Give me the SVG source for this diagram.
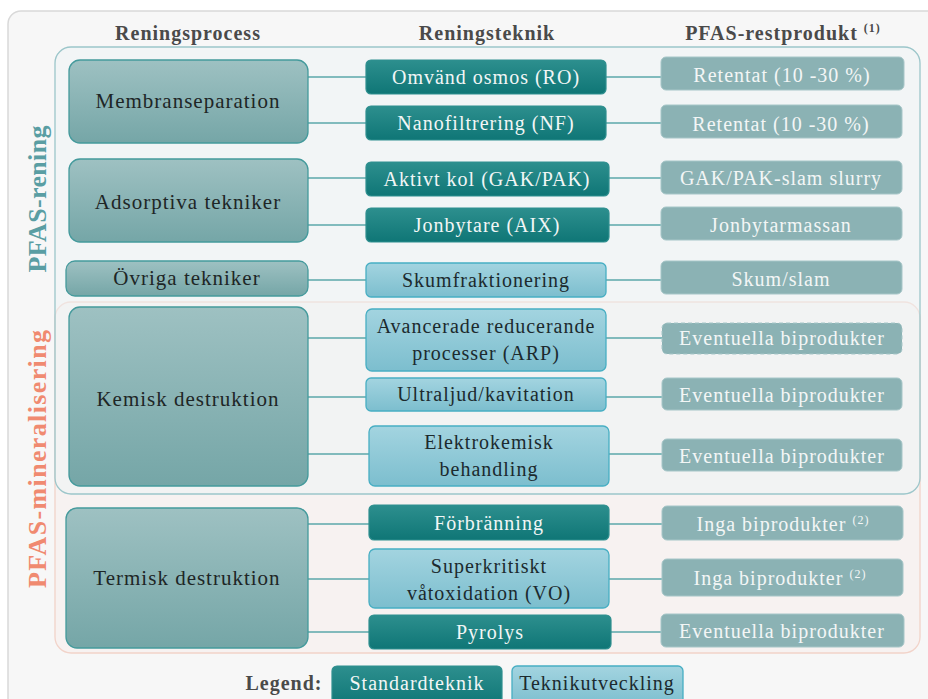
<svg xmlns="http://www.w3.org/2000/svg" width="928" height="699" viewBox="0 0 928 699">
<style>
text{font-family:"Liberation Serif","Times New Roman",serif;letter-spacing:1px}
.hdr{font-size:20px;font-weight:bold;fill:#4a4a4a;text-anchor:middle}
.lt{font-size:21px;fill:#1e2626;text-anchor:middle}
.st{font-size:20px;fill:#f2f6f6;text-anchor:middle}
.dt{font-size:20px;fill:#1c2a2e;text-anchor:middle}
.rt{font-size:20px;fill:#f3f6f6;text-anchor:middle}
.vl{font-size:26px;font-weight:bold;text-anchor:middle;letter-spacing:0}
.sup{font-size:12px}
.left{fill:url(#gl);stroke:#449a9c;stroke-width:1.3}
.std{fill:url(#gs);stroke:#2f8f8f;stroke-width:1.2}
.dev{fill:url(#gd);stroke:#47aec3;stroke-width:1.3}
.res{fill:#8bb2b4;stroke:#a6c6c8;stroke-width:1}
.con line{stroke:#5ba7aa;stroke-width:1.6}
</style>
<defs>
<linearGradient id="gl" x1="0" y1="0" x2="0" y2="1"><stop offset="0" stop-color="#9ec1c2"/><stop offset="1" stop-color="#75a6a7"/></linearGradient>
<linearGradient id="gs" x1="0" y1="0" x2="0" y2="1"><stop offset="0" stop-color="#2d8f8e"/><stop offset="1" stop-color="#0f7676"/></linearGradient>
<linearGradient id="gd" x1="0" y1="0" x2="0" y2="1"><stop offset="0" stop-color="#a3d4e0"/><stop offset="1" stop-color="#7cbece"/></linearGradient>
</defs>
<rect x="8" y="11" width="940" height="700" rx="13" fill="#f7f7f7" stroke="#d9d9d9" stroke-width="1.5"/>
<g id="headers">
<text class="hdr" x="188" y="40">Reningsprocess</text>
<text class="hdr" x="487" y="40">Reningsteknik</text>
<text class="hdr" x="783" y="40">PFAS-restprodukt <tspan class="sup" dy="-8">(1)</tspan></text>
</g>
<g id="group-mineralisering">
<rect x="55" y="302" width="865" height="351" rx="16" fill="#f7f2f1" stroke="#f2d3c9" stroke-width="1.3"/>
<text class="vl" x="46" y="459" transform="rotate(-90 46 459)" fill="#f08a70" textLength="258" lengthAdjust="spacing">PFAS-mineralisering</text>
</g>
<g id="group-rening">
<rect x="55" y="47" width="865" height="447" rx="16" fill="#eef4f5" fill-opacity="0.5" stroke="#9cc6ca" stroke-width="1.3"/>
<text class="vl" x="46" y="199" transform="rotate(-90 46 199)" fill="#5a9ea3" textLength="147" lengthAdjust="spacing">PFAS-rening</text>
</g>
<g class="con" id="connectors">
<line x1="308" y1="77" x2="366" y2="77"/><line x1="606" y1="77" x2="661" y2="77"/>
<line x1="308" y1="123" x2="366" y2="123"/><line x1="606" y1="123" x2="661" y2="123"/>
<line x1="308" y1="178" x2="366" y2="178"/><line x1="609" y1="178" x2="661" y2="178"/>
<line x1="308" y1="225" x2="366" y2="225"/><line x1="609" y1="225" x2="661" y2="225"/>
<line x1="308" y1="280" x2="366" y2="280"/><line x1="606" y1="280" x2="661" y2="280"/>
<line x1="308" y1="338" x2="366" y2="338"/><line x1="606" y1="338" x2="662" y2="338"/>
<line x1="308" y1="397" x2="366" y2="397"/><line x1="606" y1="397" x2="662" y2="397"/>
<line x1="308" y1="454" x2="369" y2="454"/><line x1="609" y1="454" x2="662" y2="454"/>
<line x1="308" y1="524" x2="369" y2="524"/><line x1="609" y1="524" x2="662" y2="524"/>
<line x1="308" y1="579" x2="369" y2="579"/><line x1="609" y1="579" x2="662" y2="579"/>
<line x1="308" y1="632" x2="369" y2="632"/><line x1="611" y1="632" x2="661" y2="632"/>
</g>
<g id="n-membran"><rect class="left" x="69" y="60" width="239" height="83" rx="11"/><text class="lt" x="188" y="108">Membranseparation</text></g>
<g id="n-adsorptiva"><rect class="left" x="69" y="159" width="239" height="83" rx="11"/><text class="lt" x="188" y="209">Adsorptiva tekniker</text></g>
<g id="n-ovriga"><rect class="left" x="66" y="261" width="242" height="35" rx="9"/><text class="lt" x="187" y="285">Övriga tekniker</text></g>
<g id="n-kemisk"><rect class="left" x="69" y="307" width="239" height="179" rx="11"/><text class="lt" x="188" y="406">Kemisk destruktion</text></g>
<g id="n-termisk"><rect class="left" x="66" y="508" width="242" height="140" rx="11"/><text class="lt" x="187" y="585">Termisk destruktion</text></g>
<g id="n-ro"><rect class="std" x="366" y="60" width="240" height="34" rx="5"/><text class="st" x="486" y="84">Omvänd osmos (RO)</text></g>
<g id="n-nf"><rect class="std" x="366" y="106" width="240" height="34" rx="5"/><text class="st" x="486" y="130">Nanofiltrering (NF)</text></g>
<g id="n-kol"><rect class="std" x="366" y="162" width="243" height="34" rx="5"/><text class="st" x="487" y="186">Aktivt kol (GAK/PAK)</text></g>
<g id="n-aix"><rect class="std" x="366" y="208" width="243" height="34" rx="5"/><text class="st" x="487" y="232">Jonbytare (AIX)</text></g>
<g id="n-skum"><rect class="dev" x="366" y="263" width="240" height="34" rx="5"/><text class="dt" x="486" y="287">Skumfraktionering</text></g>
<g id="n-arp"><rect class="dev" x="366" y="309" width="240" height="62" rx="6"/><text class="dt" x="486" y="333">Avancerade reducerande</text><text class="dt" x="486" y="360">processer (ARP)</text></g>
<g id="n-ultra"><rect class="dev" x="366" y="378" width="240" height="33" rx="5"/><text class="dt" x="486" y="401">Ultraljud/kavitation</text></g>
<g id="n-elektro"><rect class="dev" x="369" y="426" width="240" height="60" rx="6"/><text class="dt" x="489" y="449">Elektrokemisk</text><text class="dt" x="489" y="476">behandling</text></g>
<g id="n-forbr"><rect class="std" x="369" y="505" width="240" height="35" rx="5"/><text class="st" x="489" y="530">Förbränning</text></g>
<g id="n-super"><rect class="dev" x="369" y="549" width="240" height="59" rx="6"/><text class="dt" x="489" y="573">Superkritiskt</text><text class="dt" x="489" y="600">våtoxidation (VO)</text></g>
<g id="n-pyrolys"><rect class="std" x="369" y="615" width="242" height="34" rx="5"/><text class="st" x="490" y="639">Pyrolys</text></g>
<g id="r-ret1"><rect class="res" x="661" y="57" width="243" height="33" rx="5"/><text class="rt" x="782" y="82">Retentat (10 -30 %)</text></g>
<g id="r-ret2"><rect class="res" x="661" y="105" width="241" height="33" rx="5"/><text class="rt" x="781" y="131">Retentat (10 -30 %)</text></g>
<g id="r-gak"><rect class="res" x="661" y="161" width="241" height="33" rx="5"/><text class="rt" x="781" y="185">GAK/PAK-slam slurry</text></g>
<g id="r-jon"><rect class="res" x="661" y="207" width="241" height="33" rx="5"/><text class="rt" x="781" y="232">Jonbytarmassan</text></g>
<g id="r-skum"><rect class="res" x="661" y="261" width="241" height="33" rx="5"/><text class="rt" x="781" y="286">Skum/slam</text></g>
<g id="r-ev1"><rect class="res" x="662" y="323" width="240" height="31" rx="5" stroke="#c9dada" stroke-dasharray="4 3" stroke-width="1.3"/><text class="rt" x="782" y="345">Eventuella biprodukter</text></g>
<g id="r-ev2"><rect class="res" x="662" y="378" width="240" height="32" rx="5"/><text class="rt" x="782" y="402">Eventuella biprodukter</text></g>
<g id="r-ev3"><rect class="res" x="662" y="439" width="240" height="32" rx="5"/><text class="rt" x="782" y="463">Eventuella biprodukter</text></g>
<g id="r-inga1"><rect class="res" x="662" y="506" width="241" height="34" rx="5"/><text class="rt" x="783" y="531">Inga biprodukter <tspan class="sup" dy="-7">(2)</tspan></text></g>
<g id="r-inga2"><rect class="res" x="662" y="559" width="241" height="37" rx="5"/><text class="rt" x="780" y="585">Inga biprodukter <tspan class="sup" dy="-7">(2)</tspan></text></g>
<g id="r-ev4"><rect class="res" x="661" y="614" width="243" height="33" rx="5"/><text class="rt" x="782" y="638">Eventuella biprodukter</text></g>
<g id="legend">
<text x="284" y="690" text-anchor="middle" font-size="20" font-weight="bold" fill="#4a4a4a">Legend:</text>
<rect class="std" x="332" y="666" width="170" height="40" rx="5"/><text class="st" x="417" y="690">Standardteknik</text>
<rect class="dev" x="512" y="666" width="171" height="40" rx="5"/><text class="dt" x="597" y="690">Teknikutveckling</text>
</g>
</svg>
